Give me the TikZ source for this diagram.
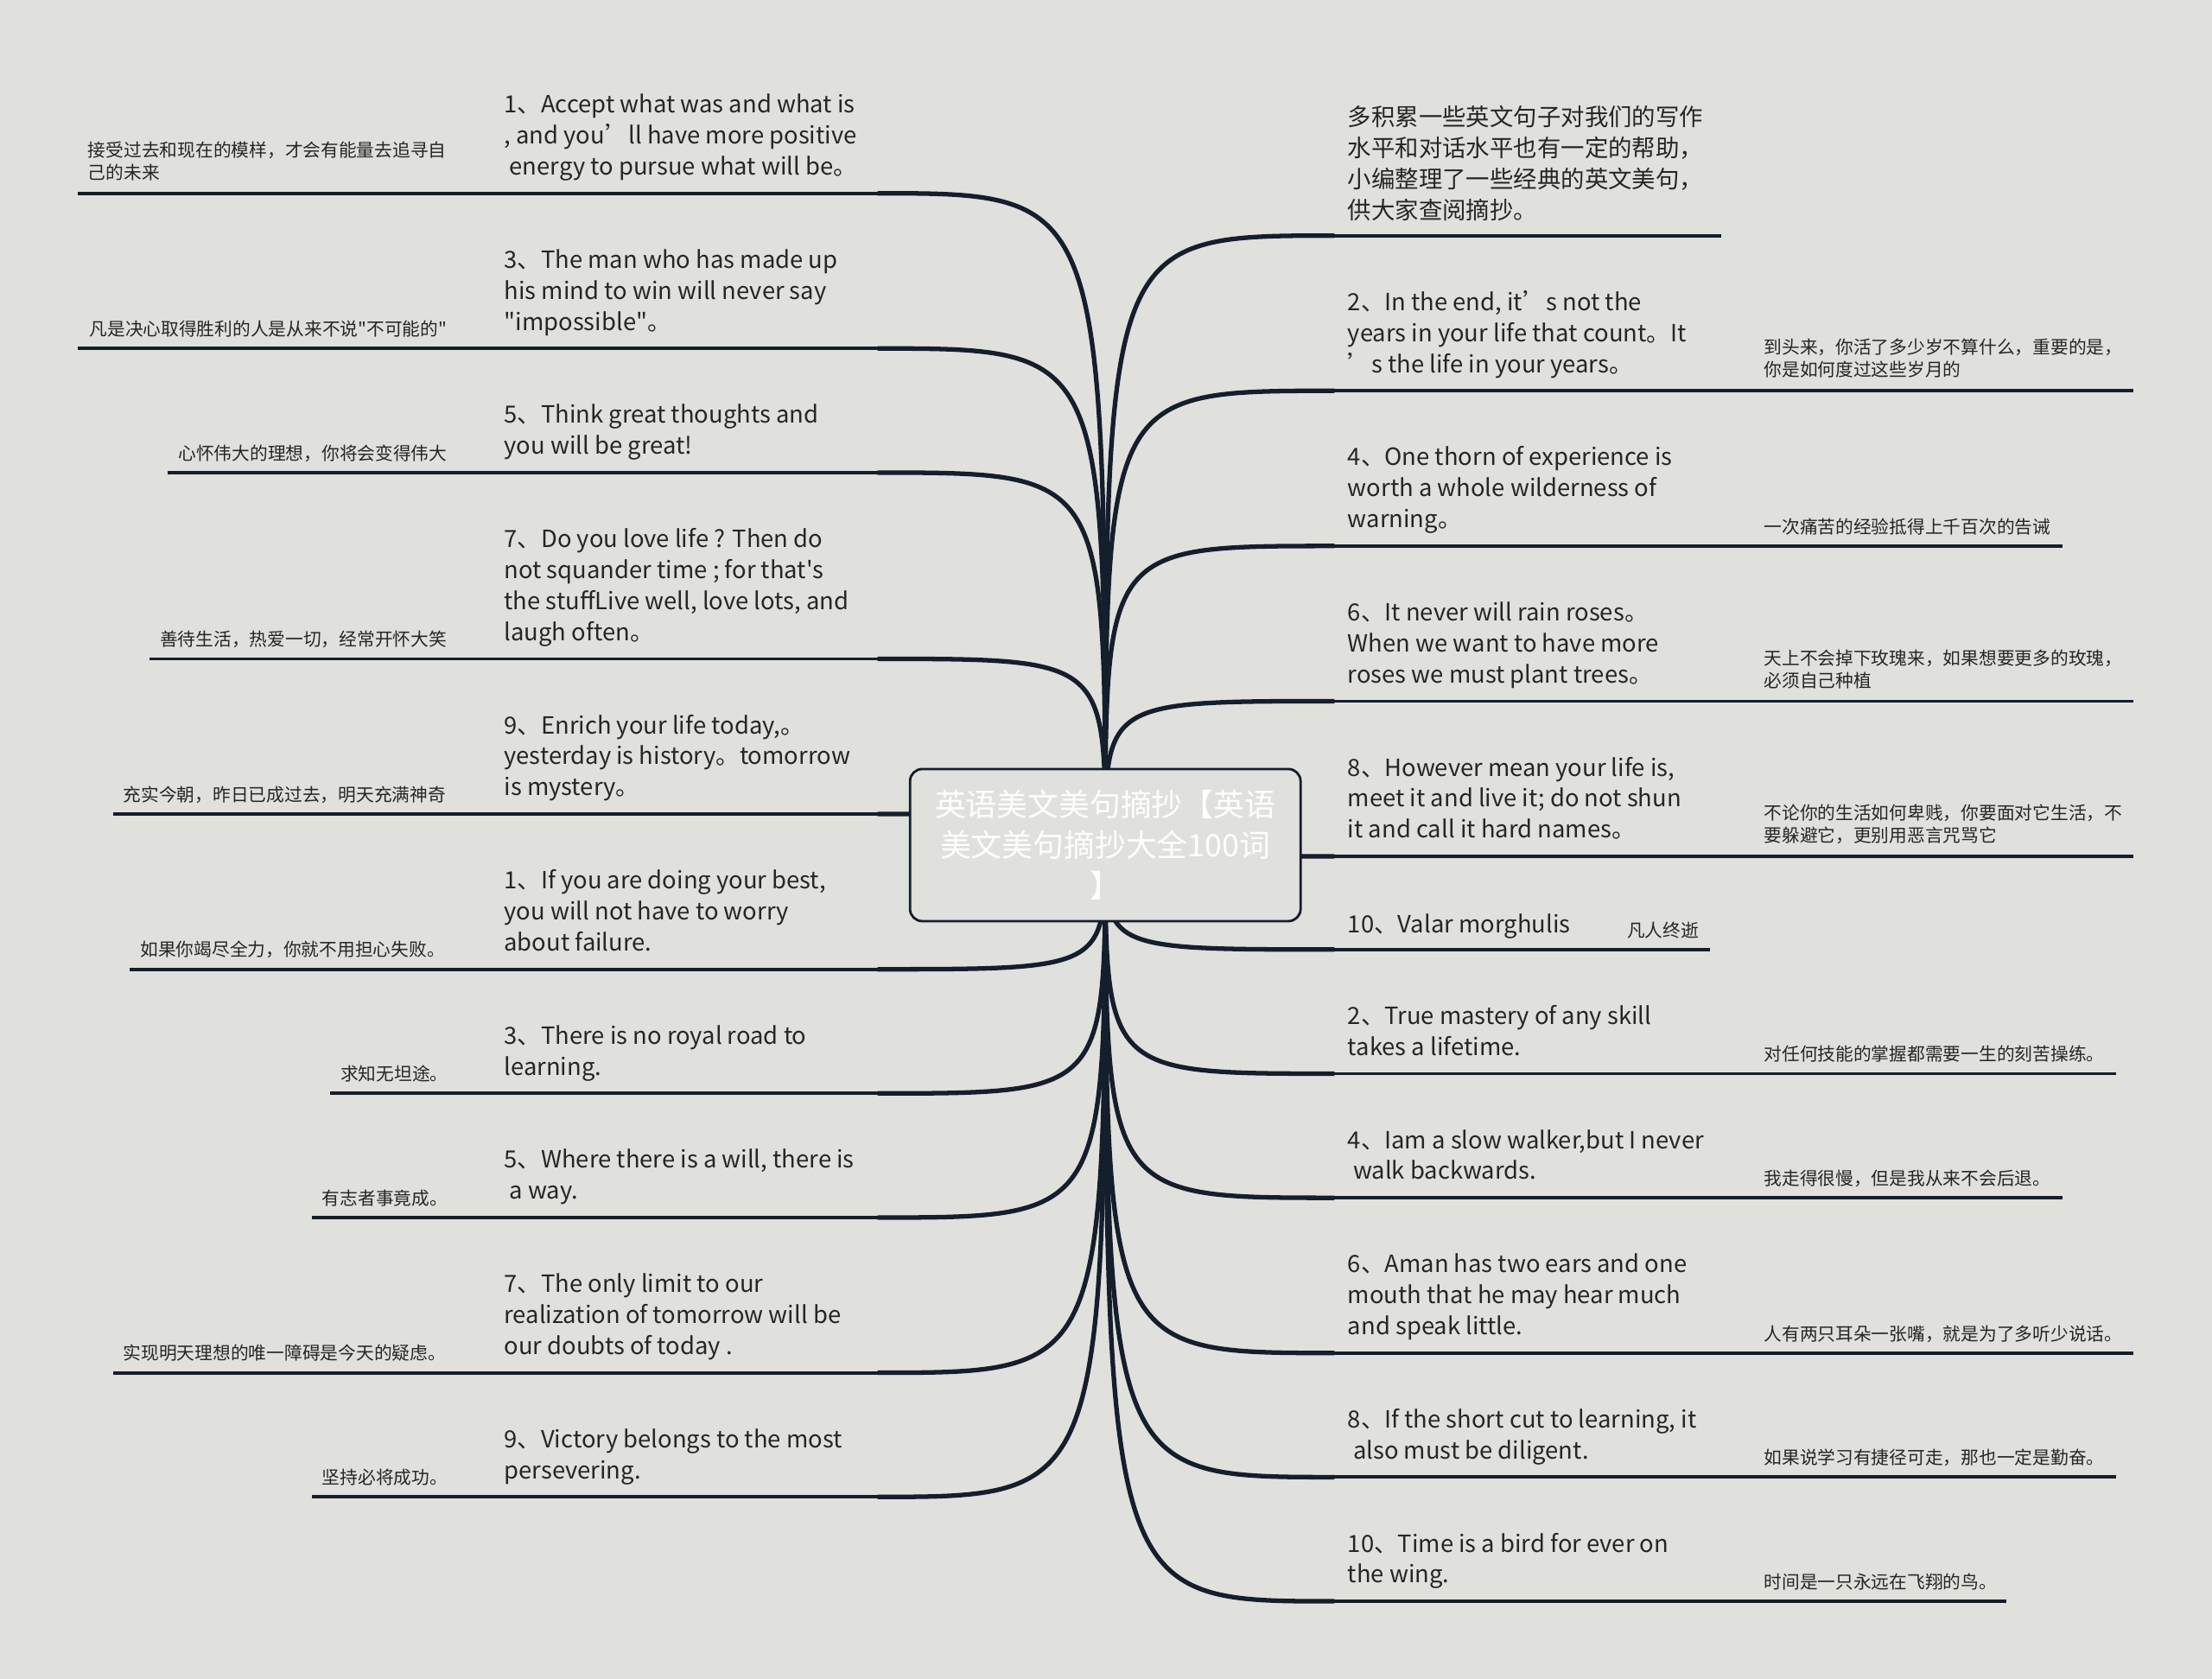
\documentclass[tikz,border=0pt]{standalone}
\usepackage{fontspec}
\setmainfont{Noto Sans CJK SC}[Ligatures=TeXOff]
\usepackage{xcolor}
\usetikzlibrary{backgrounds}
\definecolor{bgpaper}{RGB}{224,224,220}
\definecolor{inknavy}{RGB}{20,30,44}
\definecolor{quotegrey}{RGB}{38,38,38}

\begin{document}
\begin{tikzpicture}[x=0.016327cm, y=-0.016327cm,
    branch/.style={inknavy, line width=1.5pt},
    rule/.style={inknavy, line width=1.1pt},
    quote/.style={anchor=base west, align=left, inner sep=0pt, text=quotegrey,
        font=\fontsize{7.8}{10.2}\selectfont},
    gloss/.style={anchor=base west, align=left, inner sep=0pt, text=quotegrey,
        font=\fontsize{5.9}{7.4}\selectfont}]
    \useasboundingbox (0,0) rectangle (1568,1190);

    % Central topic
    \node[draw=inknavy, fill=bgpaper, rounded corners=4pt, line width=0.8pt,
        minimum width=4.52cm, minimum height=1.76cm, align=center, text=white,
        font=\fontsize{10.2}{13.4}\selectfont] (hub) at (783.5,599)
        {英语美文美句摘抄【英语\\美文美句摘抄大全100词\\】};

    % Left branches
    \coordinate (lj1) at (622,137);
    \node[quote] (lq1) at (357,124) {1、Accept what was and what is\\, and you’ll have more positive\\\ energy to pursue what will be。};
    \node[gloss] (lz1) at (62,127) {接受过去和现在的模样，才会有能量去追寻自\\己的未来};
    \draw[rule] (lj1) -- ++(-567,0);

    \coordinate (lj2) at (622,247);
    \node[quote] (lq2) at (357,234) {3、The man who has made up\\his mind to win will never say\\"impossible"。};
    \node[gloss] (lz2) at (63,238) {凡是决心取得胜利的人是从来不说"不可能的"};
    \draw[rule] (lj2) -- ++(-567,0);

    \coordinate (lj3) at (622,335);
    \node[quote] (lq3) at (357,322) {5、Think great thoughts and\\you will be great!};
    \node[gloss] (lz3) at (126,326) {心怀伟大的理想，你将会变得伟大};
    \draw[rule] (lj3) -- ++(-503,0);

    \coordinate (lj4) at (622,467);
    \node[quote] (lq4) at (357,454) {7、Do you love life ? Then do\\not squander time ; for that's\\the stuffLive well, love lots, and\\laugh often。};
    \node[gloss] (lz4) at (113,458) {善待生活，热爱一切，经常开怀大笑};
    \draw[rule] (lj4) -- ++(-516,0);

    \coordinate (lj5) at (622,577);
    \node[quote] (lq5) at (357,564) {9、Enrich your life today,。\\yesterday is history。tomorrow\\is mystery。};
    \node[gloss] (lz5) at (87,568) {充实今朝，昨日已成过去，明天充满神奇};
    \draw[rule] (lj5) -- ++(-542,0);

    \coordinate (lj6) at (622,687);
    \node[quote] (lq6) at (357,674) {1、If you are doing your best,\\you will not have to worry\\about failure.};
    \node[gloss] (lz6) at (99,678) {如果你竭尽全力，你就不用担心失败。};
    \draw[rule] (lj6) -- ++(-530,0);

    \coordinate (lj7) at (622,775);
    \node[quote] (lq7) at (357,762) {3、There is no royal road to\\learning.};
    \node[gloss] (lz7) at (241,766) {求知无坦途。};
    \draw[rule] (lj7) -- ++(-388,0);

    \coordinate (lj8) at (622,863);
    \node[quote] (lq8) at (357,850) {5、Where there is a will, there is\\\ a way.};
    \node[gloss] (lz8) at (228,854) {有志者事竟成。};
    \draw[rule] (lj8) -- ++(-401,0);

    \coordinate (lj9) at (622,973);
    \node[quote] (lq9) at (357,960) {7、The only limit to our\\realization of tomorrow will be\\our doubts of today .};
    \node[gloss] (lz9) at (87,964) {实现明天理想的唯一障碍是今天的疑虑。};
    \draw[rule] (lj9) -- ++(-542,0);

    \coordinate (lj10) at (622,1061);
    \node[quote] (lq10) at (357,1048) {9、Victory belongs to the most\\persevering.};
    \node[gloss] (lz10) at (228,1052) {坚持必将成功。};
    \draw[rule] (lj10) -- ++(-401,0);

    % Right branches
    \coordinate (rj0) at (946,167);
    \node[quote] (rq0) at (955,155) {多积累一些英文句子对我们的写作\\水平和对话水平也有一定的帮助，\\小编整理了一些经典的英文美句，\\供大家查阅摘抄。};
    \draw[rule] (rj0) -- ++(274,0);

    \coordinate (rj1) at (946,277);
    \node[quote] (rq1) at (955,264) {2、In the end, it’s not the\\years in your life that count。It\\’s the life in your years。};
    \node[gloss] (rz1) at (1250,267) {到头来，你活了多少岁不算什么，重要的是，\\你是如何度过这些岁月的};
    \draw[rule] (rj1) -- ++(566,0);

    \coordinate (rj2) at (946,387);
    \node[quote] (rq2) at (955,374) {4、One thorn of experience is\\worth a whole wilderness of\\warning。};
    \node[gloss] (rz2) at (1250,378) {一次痛苦的经验抵得上千百次的告诫};
    \draw[rule] (rj2) -- ++(516,0);

    \coordinate (rj3) at (946,497);
    \node[quote] (rq3) at (955,484) {6、It never will rain roses。\\When we want to have more\\roses we must plant trees。};
    \node[gloss] (rz3) at (1250,487) {天上不会掉下玫瑰来，如果想要更多的玫瑰，\\必须自己种植};
    \draw[rule] (rj3) -- ++(566,0);

    \coordinate (rj4) at (946,607);
    \node[quote] (rq4) at (955,594) {8、However mean your life is,\\meet it and live it; do not shun\\it and call it hard names。};
    \node[gloss] (rz4) at (1250,597) {不论你的生活如何卑贱，你要面对它生活，不\\要躲避它，更别用恶言咒骂它};
    \draw[rule] (rj4) -- ++(566,0);

    \coordinate (rj5) at (946,673);
    \node[quote] (rq5) at (955,661) {10、Valar morghulis};
    \node[gloss] (rz5) at (1153,664) {凡人终逝};
    \draw[rule] (rj5) -- ++(266,0);

    \coordinate (rj6) at (946,761);
    \node[quote] (rq6) at (955,748) {2、True mastery of any skill\\takes a lifetime.};
    \node[gloss] (rz6) at (1250,752) {对任何技能的掌握都需要一生的刻苦操练。};
    \draw[rule] (rj6) -- ++(554,0);

    \coordinate (rj7) at (946,849);
    \node[quote] (rq7) at (955,836) {4、Iam a slow walker,but I never\\\ walk backwards.};
    \node[gloss] (rz7) at (1250,840) {我走得很慢，但是我从来不会后退。};
    \draw[rule] (rj7) -- ++(516,0);

    \coordinate (rj8) at (946,959);
    \node[quote] (rq8) at (955,946) {6、Aman has two ears and one\\mouth that he may hear much\\and speak little.};
    \node[gloss] (rz8) at (1250,950) {人有两只耳朵一张嘴，就是为了多听少说话。};
    \draw[rule] (rj8) -- ++(566,0);

    \coordinate (rj9) at (946,1047);
    \node[quote] (rq9) at (955,1034) {8、If the short cut to learning, it\\\ also must be diligent.};
    \node[gloss] (rz9) at (1250,1038) {如果说学习有捷径可走，那也一定是勤奋。};
    \draw[rule] (rj9) -- ++(554,0);

    \coordinate (rj10) at (946,1135);
    \node[quote] (rq10) at (955,1122) {10、Time is a bird for ever on\\the wing.};
    \node[gloss] (rz10) at (1250,1126) {时间是一只永远在飞翔的鸟。};
    \draw[rule] (rj10) -- ++(476,0);

    % Curved connectors behind the hub
    \begin{scope}[on background layer]
        \fill[bgpaper] (0,0) rectangle (1568,1190);
        \foreach \n in {1,...,10}
            \draw[branch] (hub.center) .. controls (hub.center |- lj\n) .. (lj\n);
        \foreach \n in {0,...,10}
            \draw[branch] (hub.center) .. controls (hub.center |- rj\n) .. (rj\n);
    \end{scope}
\end{tikzpicture}
\end{document}
